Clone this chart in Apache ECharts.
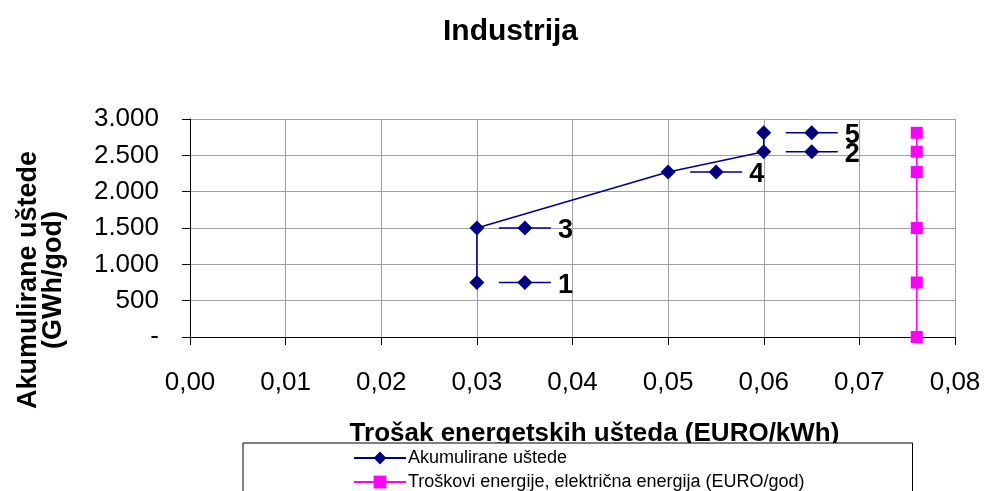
<!DOCTYPE html>
<html>
<head>
<meta charset="utf-8">
<title>Industrija</title>
<script src="https://cdn.jsdelivr.net/npm/echarts@6/dist/echarts.min.js"></script>
<style>
  html, body { margin: 0; padding: 0; background: #fff; }
  #chart { width: 986px; height: 491px; }
</style>
</head>
<body>
<div id="chart"></div>
<script>
// trošak (EURO/kWh) i akumulirane uštede (GWh/god) po mjerama
const costs = [0.03, 0.03, 0.05, 0.06, 0.06];
const savings = [750, 1500, 2270, 2550, 2810];
const measureLabels = ['1', '3', '4', '2', '5'];
// cijena električne energije
const elecPrice = [0.076, 0.076, 0.076, 0.076, 0.076, 0.076];
const elecLevels = [0, 750, 1500, 2270, 2550, 2810];

const FONT = "'Liberation Sans', Arial, sans-serif";
const NAVY = '#000080';
const PINK = '#ff00ff';

const chart = echarts.init(document.getElementById('chart'));

function yLabel(v) {
  if (v === 0) return '-';
  return String(v).replace(/\B(?=(\d{3})+(?!\d))/g, '.');
}

// data label with legend key, like in Excel
function renderKey(params, api) {
  const p = api.coord([api.value(0), api.value(1)]);
  const cx = p[0] + 48;
  const cy = p[1];
  const d = 7.5;
  return {
    type: 'group',
    children: [
      { type: 'line', shape: { x1: cx - 26, y1: cy, x2: cx + 26, y2: cy },
        style: { stroke: NAVY, lineWidth: 1.5 } },
      { type: 'polygon', shape: { points: [[cx, cy - d], [cx + d, cy], [cx, cy + d], [cx - d, cy]] },
        style: { fill: NAVY } },
      { type: 'text', x: cx + 33, y: cy + 3,
        style: { text: measureLabels[params.dataIndex], fill: '#000', font: 'bold 27px ' + FONT,
          textAlign: 'left', textVerticalAlign: 'middle' } }
    ]
  };
}

chart.setOption({
  animation: false,
  textStyle: { fontFamily: FONT },
  title: {
    text: 'Industrija',
    left: 438,
    top: 12,
    textStyle: { fontSize: 30, fontWeight: 'bold', color: '#000', fontFamily: FONT }
  },
  grid: { left: 190, right: 31, top: 119, bottom: 154 },
  legend: {
    data: ['Akumulirane uštede', 'Troškovi energije, električna energija (EURO/god)'],
    orient: 'vertical',
    left: 243,
    top: 443,
    height: 60,
    padding: [6, 108, 5, 110],
    itemGap: 6,
    itemWidth: 52,
    itemHeight: 16,
    backgroundColor: '#fff',
    borderColor: '#000',
    borderWidth: 1,
    borderRadius: 0,
    textStyle: { fontSize: 18, color: '#000', fontFamily: FONT, padding: [0, 0, 0, -3] }
  },
  xAxis: {
    type: 'value',
    min: 0,
    max: 0.08,
    interval: 0.01,
    name: 'Trošak energetskih ušteda (EURO/kWh)',
    nameLocation: 'middle',
    nameGap: 84,
    nameTextStyle: { fontSize: 26, fontWeight: 'bold', color: '#000', padding: [0, 0, 0, 44] },
    axisLine: { lineStyle: { color: '#000', width: 1 } },
    axisTick: { show: true, length: 8, lineStyle: { color: '#000' } },
    axisLabel: { fontSize: 26, color: '#000', margin: 33, formatter: v => v.toFixed(2).replace('.', ',') },
    splitLine: { show: true, lineStyle: { color: '#a0a0a0', width: 1 } }
  },
  yAxis: {
    type: 'value',
    min: 0,
    max: 3000,
    interval: 500,
    name: 'Akumulirane uštede\n(GWh/god)',
    nameLocation: 'middle',
    nameGap: 124,
    nameTextStyle: { fontSize: 27, fontWeight: 'bold', color: '#000', lineHeight: 25, padding: [0, 104, 0, 0] },
    axisLine: { show: true, lineStyle: { color: '#000', width: 1 } },
    axisTick: { show: true, length: 8, lineStyle: { color: '#000' } },
    axisLabel: { fontSize: 26, color: '#000', margin: 31, formatter: yLabel },
    splitLine: { show: true, lineStyle: { color: '#a0a0a0', width: 1 } }
  },
  series: [
    {
      name: 'Akumulirane uštede',
      type: 'line',
      data: costs.map((c, i) => [c, savings[i]]),
      symbol: 'diamond',
      symbolSize: 15,
      lineStyle: { color: NAVY, width: 1.5 },
      itemStyle: { color: NAVY },
      z: 3
    },
    {
      name: 'Troškovi energije, električna energija (EURO/god)',
      type: 'line',
      data: elecPrice.map((c, i) => [c, elecLevels[i]]),
      symbol: 'rect',
      symbolSize: 12,
      lineStyle: { color: PINK, width: 1.5 },
      itemStyle: { color: PINK },
      z: 3
    },
    {
      name: 'oznake',
      type: 'custom',
      renderItem: renderKey,
      data: costs.map((c, i) => [c, savings[i]]),
      encode: { x: 0, y: 1 },
      z: 4
    }
  ]
});
</script>
</body>
</html>
